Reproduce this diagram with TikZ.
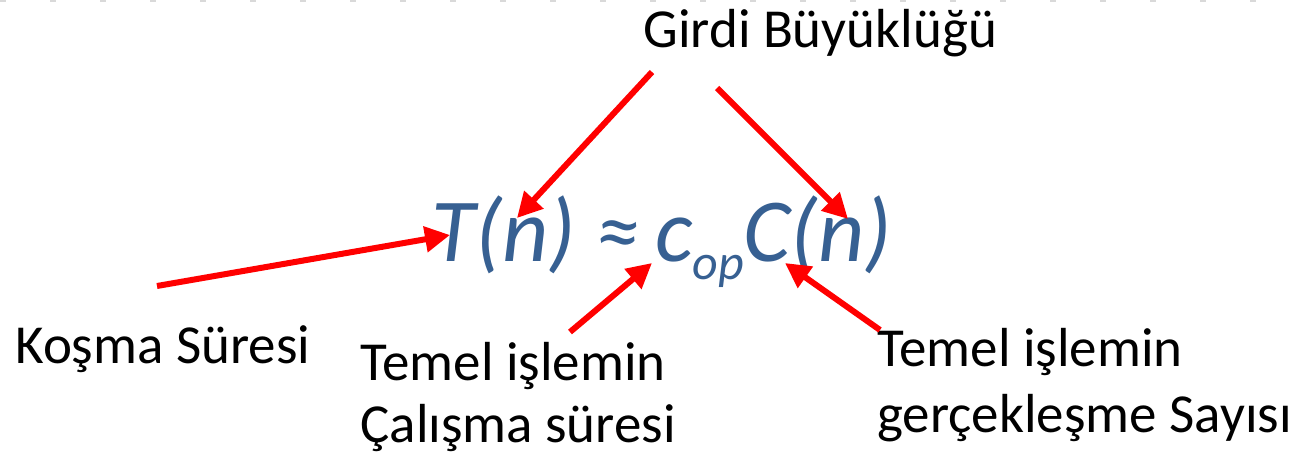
\documentclass[tikz,border=0pt]{standalone}
\usepackage{fontspec}
\setmainfont{Carlito}
\usetikzlibrary{arrows.meta}
\definecolor{eqblue}{RGB}{55,96,146}
\tikzset{
  lbl/.style={inner sep=0pt, anchor=base west, font=\fontsize{27.5}{33}\selectfont},
  eq/.style={inner sep=0pt, anchor=base west, text=eqblue, font=\fontsize{45}{54}\selectfont\itshape},
  redarrow/.style={draw=red, line width=3pt, -{Triangle[length=12.5pt,width=12.5pt]}}
}
\begin{document}
\begin{tikzpicture}[x=0.5pt,y=-0.5pt]
\useasboundingbox (0,0) rectangle (1289,454);
\draw[gray!30, line width=1pt, dash pattern=on 3pt off 22pt] (0,1) -- (1289,1);
% texts
\node[lbl] (girdi) at (643,48) {Girdi Büyüklüğü};
\node[lbl] (kosma) at (15,363) {Koşma Süresi};
\node[lbl] (tA1) at (360,380) {Temel işlemin};
\node[lbl] (tA2) at (360,442) {Çalışma süresi};
\node[lbl] (tB1) at (877,366) {Temel işlemin};
\node[lbl] (tB2) at (877,432) {gerçekleşme Sayısı};
\node[eq] (formula) at (431,262) {T(n)\hspace{0.22em}≈\hspace{0.16em}c\raisebox{-0.2em}{\fontsize{25}{30}\selectfont op}C(n)};
% arrow end points
\coordinate (g1) at (652,72);
\coordinate (n1) at (517,218);
\coordinate (g2) at (717,88);
\coordinate (n2) at (848,219);
\coordinate (k0) at (157,286);
\coordinate (kT) at (450,235);
\coordinate (c0) at (570,332);
\coordinate (cC) at (652,263);
\coordinate (s0) at (880,330);
\coordinate (sC) at (785,263);
\draw[redarrow] (g1) -- (n1);
\draw[redarrow] (g2) -- (n2);
\draw[redarrow] (k0) -- (kT);
\draw[redarrow] (c0) -- (cC);
\draw[redarrow] (s0) -- (sC);
\end{tikzpicture}
\end{document}
